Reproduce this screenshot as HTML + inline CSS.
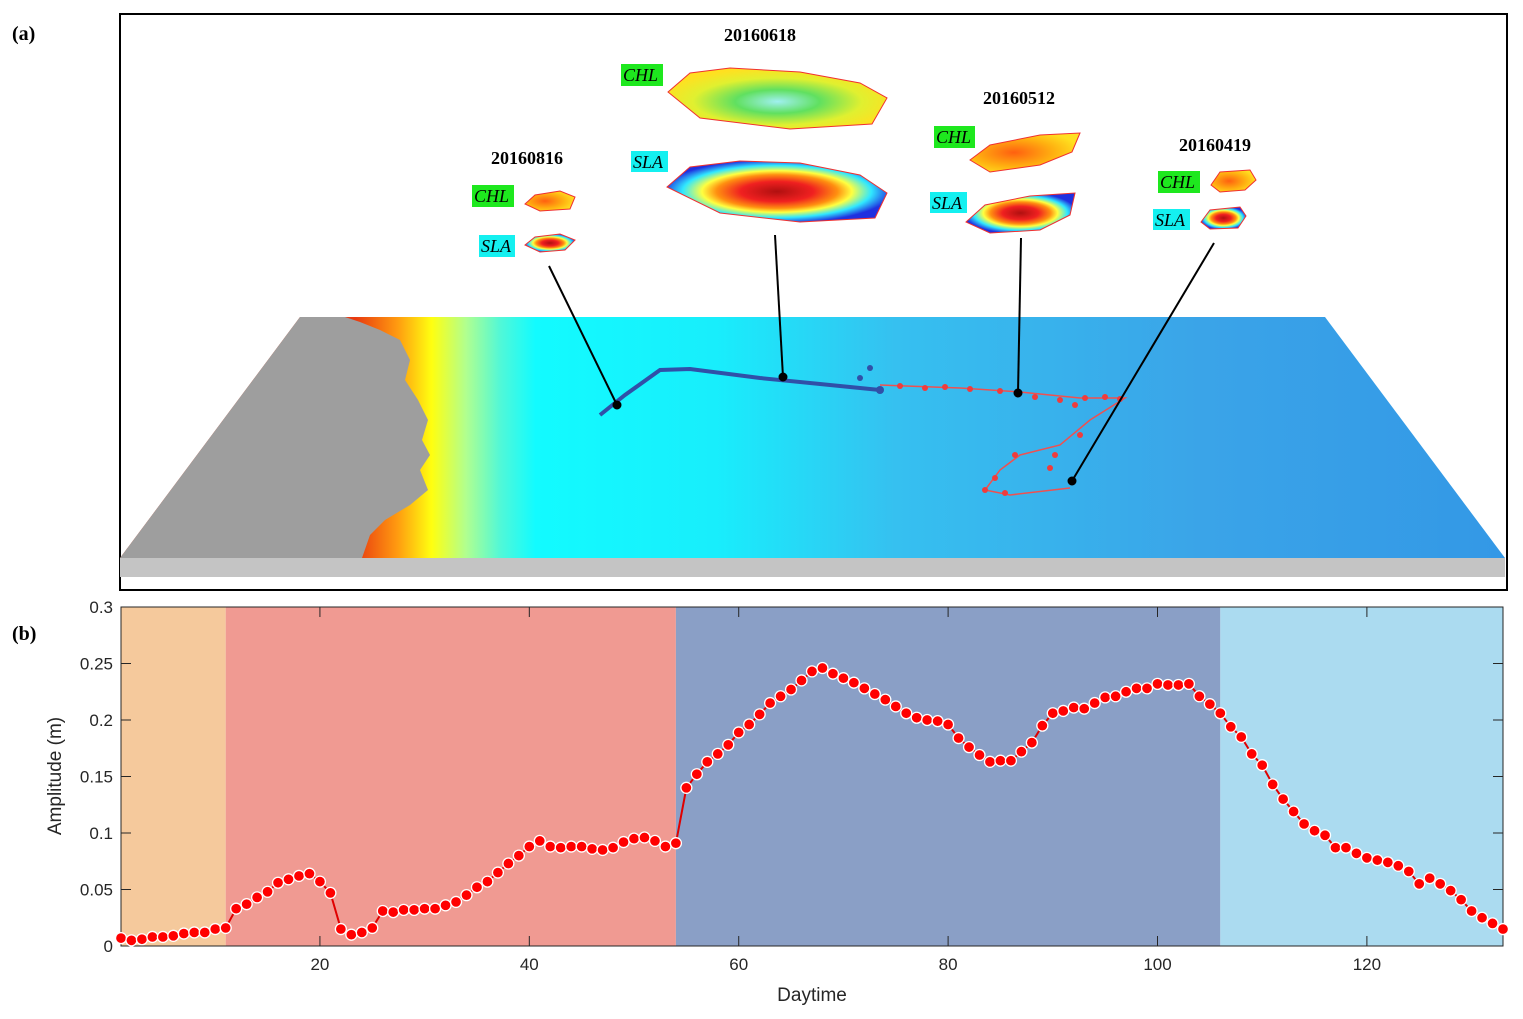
<!DOCTYPE html>
<html><head><meta charset="utf-8"><style>
body{margin:0;background:#fff;width:1523px;height:1019px;overflow:hidden;font-family:"Liberation Sans",sans-serif}
svg{position:absolute;left:0;top:0}
</style></head><body>
<svg width="1523" height="1019">
<defs>
<linearGradient id="sea" gradientUnits="userSpaceOnUse" x1="120" y1="0" x2="1505" y2="0">
<stop offset="0.17" stop-color="#e83a10"/><stop offset="0.2" stop-color="#ff9a10"/><stop offset="0.225" stop-color="#ffff10"/>
<stop offset="0.25" stop-color="#b0ff90"/><stop offset="0.275" stop-color="#50f8d8"/><stop offset="0.3" stop-color="#12fbff"/>
<stop offset="0.43" stop-color="#18eefc"/><stop offset="0.56" stop-color="#36c0f0"/><stop offset="0.78" stop-color="#3aa4e8"/><stop offset="1" stop-color="#3398e6"/>
</linearGradient>
<radialGradient id="slaG" cx="0.5" cy="0.5" r="0.55"><stop offset="0" stop-color="#b01010"/><stop offset="0.3" stop-color="#f02020"/><stop offset="0.5" stop-color="#ff9010"/><stop offset="0.62" stop-color="#ffff40"/><stop offset="0.78" stop-color="#30e8ff"/><stop offset="0.95" stop-color="#2030e0"/></radialGradient>
<radialGradient id="chlG" cx="0.5" cy="0.55" r="0.55"><stop offset="0" stop-color="#a0f0f0"/><stop offset="0.35" stop-color="#60e060"/><stop offset="0.7" stop-color="#e0f030"/><stop offset="1" stop-color="#ffe020"/></radialGradient>
<radialGradient id="chlS" cx="0.4" cy="0.5" r="0.6"><stop offset="0" stop-color="#ff6010"/><stop offset="0.6" stop-color="#ffb010"/><stop offset="1" stop-color="#ffe020"/></radialGradient>
</defs>
<text x="12" y="40" font-family="Liberation Serif" font-weight="bold" font-size="20">(a)</text>
<text x="12" y="640" font-family="Liberation Serif" font-weight="bold" font-size="20">(b)</text>
<rect x="120" y="14" width="1387" height="576" fill="#fff" stroke="#000" stroke-width="2"/>
<g>
<rect x="120" y="558" width="1385" height="19" fill="#c4c4c4"/>
<polygon points="300,317 1325,317 1505,558 120,558" fill="url(#sea)"/>
<polygon points="300,317 345,317 360,322 380,330 400,340 410,360 405,380 418,400 428,420 422,440 430,455 420,470 428,490 410,505 385,520 370,535 362,558 120,558" fill="#9e9e9e"/>
<path d="M600,415 L625,395 L660,370 L690,369 L760,378 L880,390" stroke="#3050a8" stroke-width="4" fill="none"/>
<path d="M880,385 L960,388 L1020,392 L1080,398 L1125,398 L1090,420 L1060,445 L1020,455 L1000,470 L985,490 L1010,495 L1070,488" stroke="#f05050" stroke-width="1.5" fill="none"/>
<g fill="#f03c3c">
<circle cx="900" cy="386" r="3"/><circle cx="925" cy="388" r="3"/><circle cx="945" cy="387" r="3"/><circle cx="970" cy="389" r="3"/><circle cx="1000" cy="391" r="3"/><circle cx="1035" cy="397" r="3"/><circle cx="1060" cy="400" r="3"/><circle cx="1085" cy="398" r="3"/><circle cx="1105" cy="397" r="3"/><circle cx="1120" cy="399" r="3"/><circle cx="1075" cy="405" r="3"/><circle cx="1080" cy="435" r="3"/><circle cx="1055" cy="455" r="3"/><circle cx="1015" cy="455" r="3"/><circle cx="1050" cy="468" r="3"/><circle cx="995" cy="478" r="3"/><circle cx="985" cy="490" r="3"/><circle cx="1005" cy="493" r="3"/>
<circle cx="880" cy="390" r="4" fill="#3050a8"/><circle cx="870" cy="368" r="3" fill="#3050a8"/><circle cx="860" cy="378" r="3" fill="#3050a8"/>
</g>
</g>
<g fill="#000" font-family="Liberation Serif" font-size="18">
<text x="760" y="41" font-weight="bold" text-anchor="middle">20160618</text>
<text x="527" y="164" font-weight="bold" text-anchor="middle">20160816</text>
<text x="1019" y="104" font-weight="bold" text-anchor="middle">20160512</text>
<text x="1215" y="151" font-weight="bold" text-anchor="middle">20160419</text>
<rect x="621" y="64" width="42" height="22" fill="#1ee81e"/><text x="623" y="81" font-style="italic">CHL</text>
<rect x="631" y="151" width="37" height="21" fill="#14f0f0"/><text x="633" y="168" font-style="italic">SLA</text>
<rect x="472" y="185" width="42" height="22" fill="#1ee81e"/><text x="474" y="202" font-style="italic">CHL</text>
<rect x="479" y="235" width="36" height="22" fill="#14f0f0"/><text x="481" y="252" font-style="italic">SLA</text>
<rect x="934" y="126" width="41" height="22" fill="#1ee81e"/><text x="936" y="143" font-style="italic">CHL</text>
<rect x="930" y="192" width="37" height="21" fill="#14f0f0"/><text x="932" y="209" font-style="italic">SLA</text>
<rect x="1158" y="171" width="42" height="22" fill="#1ee81e"/><text x="1160" y="188" font-style="italic">CHL</text>
<rect x="1153" y="209" width="37" height="21" fill="#14f0f0"/><text x="1155" y="226" font-style="italic">SLA</text>
<polygon points="668,92 690,73 730,68 800,72 860,83 887,98 872,124 790,129 700,118" fill="url(#chlG)" stroke="#f03030"/>
<polygon points="667,187 690,167 740,161 800,163 860,175 887,193 875,218 800,222 720,213" fill="url(#slaG)" stroke="#f03030"/>
<polygon points="525,204 535,195 560,191 575,197 570,209 540,211" fill="url(#chlS)" stroke="#f03030"/>
<polygon points="525,245 535,237 560,234 575,240 565,250 540,252" fill="url(#slaG)" stroke="#f03030"/>
<polygon points="970,160 990,145 1040,135 1080,133 1072,152 1040,165 990,172" fill="url(#chlS)" stroke="#f03030"/>
<polygon points="966,222 985,205 1030,196 1075,193 1070,215 1040,230 990,233" fill="url(#slaG)" stroke="#f03030"/>
<polygon points="1211,185 1220,172 1250,170 1256,180 1245,190 1220,192" fill="url(#chlS)" stroke="#f03030"/>
<polygon points="1201,222 1210,210 1240,207 1246,216 1238,228 1210,229" fill="url(#slaG)" stroke="#f03030"/>
</g>
<g stroke="#000" stroke-width="2">
<line x1="549" y1="266" x2="617" y2="405"/><line x1="775" y1="235" x2="783" y2="377"/>
<line x1="1021" y1="238" x2="1018" y2="393"/><line x1="1214" y1="243" x2="1072" y2="481"/>
<circle cx="617" cy="405" r="3.5"/><circle cx="783" cy="377" r="3.5"/><circle cx="1018" cy="393" r="3.5"/><circle cx="1072" cy="481" r="3.5"/>
</g>
<g id="chart"></g>
<text x="812" y="1001" font-size="19" fill="#262626" text-anchor="middle">Daytime</text>
<text transform="translate(61,776) rotate(-90)" font-size="19" fill="#262626" text-anchor="middle">Amplitude (m)</text>
</svg>
<script>
const amplitude=[0.007,0.005,0.006,0.008,0.008,0.009,0.011,0.012,0.012,0.015,0.016,
0.033,0.037,0.043,0.048,0.056,0.059,0.062,0.064,0.057,0.047,0.015,0.010,0.012,0.016,0.031,0.030,0.032,0.032,0.033,0.033,0.036,0.039,0.045,0.052,0.057,0.065,0.073,0.080,0.088,0.093,0.088,0.087,0.088,0.088,0.086,0.085,0.087,0.092,0.095,0.096,0.093,0.088,0.091,
0.140,0.152,0.163,0.170,0.178,0.189,0.196,0.205,0.215,0.221,0.227,0.235,0.243,0.246,0.241,0.237,0.233,0.228,0.223,0.218,0.212,0.206,0.202,0.200,0.199,0.196,0.184,0.176,0.169,0.163,0.164,0.164,0.172,0.180,0.195,0.206,0.208,0.211,0.210,0.215,0.220,0.221,0.225,0.228,0.228,0.232,0.231,0.231,0.232,0.221,0.214,0.206,0.194,0.185,0.170,0.160,0.143,0.130,0.119,0.108,0.102,0.098,0.087,0.087,0.082,0.078,0.076,0.074,0.071,0.066,0.055,0.060,0.055,0.049,0.041,0.031,0.025,0.020,0.015];
const bandStarts=[1,11,54,106];
const bandEnds=[11,54,106,133];
const bandColors=['#f5c99c','#f09a92','#8a9fc6','#abdbf0'];
const xTicks=[20,40,60,80,100,120];
const yTicks=[0,0.05,0.1,0.15,0.2,0.25,0.3];
const yTickLabels=['0','0.05','0.1','0.15','0.2','0.25','0.3'];
const L=121,R=1503,T=607,B=946,xmin=1,xmax=133,ymax=0.3;
const sx=v=>L+(v-xmin)/(xmax-xmin)*(R-L);
const sy=v=>B-v/ymax*(B-T);
const NS='http://www.w3.org/2000/svg';
const g=document.getElementById('chart');
function mk(t,a,p){const e=document.createElementNS(NS,t);for(const k in a)e.setAttribute(k,a[k]);(p||g).appendChild(e);return e;}
bandStarts.forEach((s,i)=>{
 const r=mk('rect',{x:sx(s),y:T,width:sx(bandEnds[i])-sx(s),height:B-T,fill:bandColors[i]});
 
 
});
const fr=mk('rect',{x:L,y:T,width:R-L,height:B-T,fill:'none',stroke:'#262626','stroke-width':1});


xTicks.forEach(v=>{
 mk('line',{x1:sx(v),x2:sx(v),y1:B,y2:B-10,stroke:'#262626'});
 mk('line',{x1:sx(v),x2:sx(v),y1:T,y2:T+10,stroke:'#262626'});
 const t=mk('text',{x:sx(v),y:B+24,'font-size':17,fill:'#262626','text-anchor':'middle'});t.textContent=v;
 
 
});
yTicks.forEach((v,i)=>{
 mk('line',{x1:L,x2:L+10,y1:sy(v),y2:sy(v),stroke:'#262626'});
 mk('line',{x1:R,x2:R-10,y1:sy(v),y2:sy(v),stroke:'#262626'});
 const t=mk('text',{x:L-8,y:sy(v)+6,'font-size':17,fill:'#262626','text-anchor':'end'});t.textContent=yTickLabels[i];
 
 
});
const pts=amplitude.map((v,i)=>sx(i+1).toFixed(1)+','+sy(v).toFixed(1)).join(' ');
const ln=mk('polyline',{points:pts,fill:'none',stroke:'#e00000','stroke-width':2});


amplitude.forEach((v,i)=>{
 const c=mk('circle',{cx:sx(i+1),cy:sy(v),r:5.5,fill:'#ff0000',stroke:'#fff','stroke-width':1.3});
 
 
});
</script>
</body></html>
